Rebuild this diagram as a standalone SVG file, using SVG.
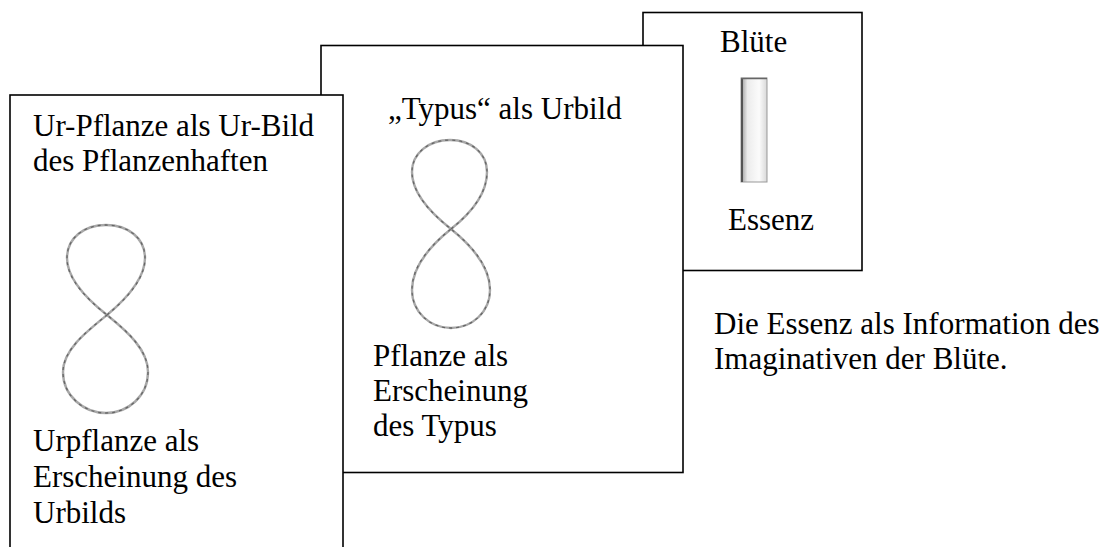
<svg xmlns="http://www.w3.org/2000/svg" width="1115" height="547" viewBox="0 0 1115 547">
<defs>
<style>
.box{fill:#fff;stroke:#000;stroke-width:1.6}
.t{font-family:"Liberation Serif","Times New Roman",serif;font-size:31px;fill:#000}
.eight{fill:none;stroke:#a8a8a8;stroke-width:2.4}
.eightd{fill:none;stroke:#666;stroke-width:1.3;stroke-dasharray:3 4}
</style>
<linearGradient id="bar" x1="0" y1="0" x2="1" y2="0">
<stop offset="0" stop-color="#9a9a9a"/>
<stop offset="0.25" stop-color="#ececec"/>
<stop offset="0.7" stop-color="#fbfbfb"/>
<stop offset="1" stop-color="#d8d8d8"/>
</linearGradient>
</defs>
<g id="box-bluete">
<rect class="box" x="643" y="12.5" width="219" height="258"/>
<text class="t" x="720" y="52">Blüte</text>
<rect x="741" y="78" width="26" height="104" fill="url(#bar)" stroke="#999" stroke-width="1"/>
<line x1="742" y1="78" x2="742" y2="182" stroke="#555" stroke-width="2"/>
<line x1="741" y1="78.5" x2="767" y2="78.5" stroke="#666" stroke-width="1.5"/>
<text class="t" x="728" y="230">Essenz</text>
</g>
<g id="box-typus">
<rect class="box" x="321" y="45.5" width="362" height="427"/>
<text class="t" x="388" y="119">„Typus“ als Urbild</text>
<path class="eight" d="M451,229 C470,214 487,194 487,172 C487,153 471,140 450,140 C429,140 412,153 412,172 C412,194 432,214 451,229 C472,246 490,266 490,290 C490,312 472,328 451,328 C430,328 412,312 412,290 C412,266 430,246 451,229 Z"/>
<path class="eightd" d="M451,229 C470,214 487,194 487,172 C487,153 471,140 450,140 C429,140 412,153 412,172 C412,194 432,214 451,229 C472,246 490,266 490,290 C490,312 472,328 451,328 C430,328 412,312 412,290 C412,266 430,246 451,229 Z"/>
<text class="t" x="373" y="366">Pflanze als</text>
<text class="t" x="373" y="401">Erscheinung</text>
<text class="t" x="373" y="436">des Typus</text>
</g>
<g id="box-urpflanze">
<rect class="box" x="10" y="95" width="333" height="470"/>
<text class="t" x="33" y="136">Ur-Pflanze als Ur-Bild</text>
<text class="t" x="33" y="171">des Pflanzenhaften</text>
<path class="eight" d="M107,315 C125,300 145,280 145,258 C145,238 128,225 106,225 C84,225 67,238 67,258 C67,280 88,300 107,315 C128,332 148,350 148,372 C148,396 128,413 106,413 C84,413 63,396 63,372 C63,350 86,332 107,315 Z"/>
<path class="eightd" d="M107,315 C125,300 145,280 145,258 C145,238 128,225 106,225 C84,225 67,238 67,258 C67,280 88,300 107,315 C128,332 148,350 148,372 C148,396 128,413 106,413 C84,413 63,396 63,372 C63,350 86,332 107,315 Z"/>
<text class="t" x="33" y="451">Urpflanze als</text>
<text class="t" x="33" y="487">Erscheinung des</text>
<text class="t" x="33" y="523">Urbilds</text>
</g>
<g id="caption">
<text class="t" x="714" y="334">Die Essenz als Information des</text>
<text class="t" x="714" y="369">Imaginativen der Blüte.</text>
</g>
<g id="connectors"></g>
</svg>
